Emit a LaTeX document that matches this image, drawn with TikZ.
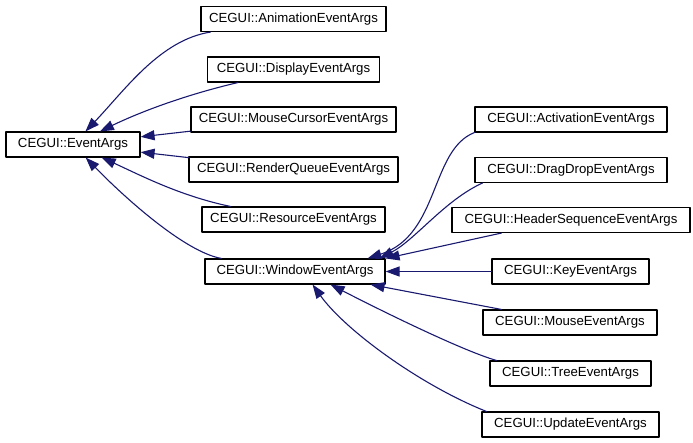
\documentclass[tikz,border=0pt]{standalone}
\usepackage{fontspec}
\setmainfont{Liberation Sans}
\usetikzlibrary{arrows.meta}

\begin{document}
\begin{tikzpicture}[line cap=round,line join=round,>={Triangle[length=14pt,width=10pt]},x=1pt,y=-1pt,
  cls/.style={draw=black,line width=1.1pt,fill=white,inner sep=0pt,minimum height=25pt,font=\fontsize{13.2}{15}\selectfont},
  inh/.style={->,line width=1.1pt,color=midblue}]
\definecolor{midblue}{rgb}{0.098,0.098,0.439}
\useasboundingbox (0,0) rectangle (693,443);
% base class
\node[cls,minimum width=134pt] (base) at (73,144.5) {CEGUI::EventArgs};
% first rank
\node[cls,minimum width=185pt] (anim) at (293.5,19) {CEGUI::AnimationEventArgs};
\node[cls,minimum width=172pt] (disp) at (293.5,69.5) {CEGUI::DisplayEventArgs};
\node[cls,minimum width=205pt] (mcur) at (293.5,119.5) {CEGUI::MouseCursorEventArgs};
\node[cls,minimum width=209pt] (rque) at (293.5,169.5) {CEGUI::RenderQueueEventArgs};
\node[cls,minimum width=183pt] (res) at (293.5,219.5) {CEGUI::ResourceEventArgs};
\node[cls,minimum width=180pt] (win) at (295,271.5) {CEGUI::WindowEventArgs};
% second rank
\node[cls,minimum width=192pt] (act) at (571,119.5) {CEGUI::ActivationEventArgs};
\node[cls,minimum width=192pt] (drag) at (571,170) {CEGUI::DragDropEventArgs};
\node[cls,minimum width=238pt] (head) at (571,220) {CEGUI::HeaderSequenceEventArgs};
\node[cls,minimum width=157pt] (key) at (570.5,271.5) {CEGUI::KeyEventArgs};
\node[cls,minimum width=174pt] (mouse) at (570,322.5) {CEGUI::MouseEventArgs};
\node[cls,minimum width=161pt] (tree) at (570.5,373.5) {CEGUI::TreeEventArgs};
\node[cls,minimum width=177pt] (upd) at (570.5,424.5) {CEGUI::UpdateEventArgs};
% inheritance to EventArgs
\draw[inh] (anim) .. controls (160,40) and (125,90) .. (base);
\draw[inh] (disp) .. controls (185,95) and (140,112) .. (base);
\draw[inh] (mcur) -- (base);
\draw[inh] (rque) -- (base);
\draw[inh] (res) .. controls (180,196) and (140,175) .. (base);
\draw[inh] (win) .. controls (185,252) and (125,198) .. (base);
% inheritance to WindowEventArgs
\draw[inh] (act.south west) .. controls (430,150) and (440,235) .. ([xshift=-18pt]win.north east);
\draw[inh] ([xshift=8pt]drag.south west) .. controls (445,200) and (415,240) .. ([xshift=-6pt]win.north east);
\draw[inh] ([xshift=50pt]head.south west) -- (win.north east);
\draw[inh] (key) -- (win);
\draw[inh] ([xshift=19pt]mouse.north west) -- ([xshift=-15pt]win.south east);
\draw[inh] ([xshift=7pt]tree.north west) .. controls (460,350) and (370,305) .. ([xshift=-55pt]win.south east);
\draw[inh] ([xshift=5pt]upd.north west) .. controls (420,385) and (345,330) .. ([xshift=-73pt]win.south east);
\end{tikzpicture}
\end{document}
